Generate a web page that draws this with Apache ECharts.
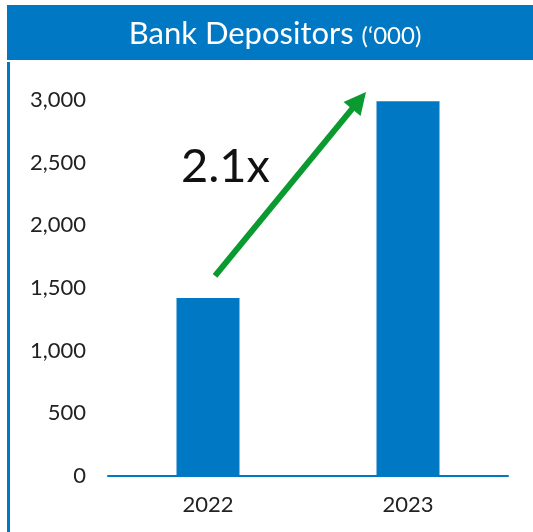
<!DOCTYPE html>
<html><head><meta charset="utf-8">
<script src="https://cdn.jsdelivr.net/npm/echarts@6/dist/echarts.min.js"></script>
<style>html,body{margin:0;padding:0;background:#fff}#c{width:533px;height:532px}</style>
</head><body><div id="c"></div>
<script>
const categories = ['2022', '2023'];
const depositors = [1420, 2990];
const yTicks = [0, 500, 1000, 1500, 2000, 2500, 3000];
const arrowFrom = [0.035, 1596];
const arrowTo = [0.79, 3064];
const growthLabel = '2.1x';

const FONT = 'Lato, "Open Sans", sans-serif';
const BLUE = '#0078c4';
const GREEN = '#0a9a30';
const chart = echarts.init(document.getElementById('c'));
const baseGraphic = [
  { type: 'rect', shape: { x: 7, y: 5, width: 526, height: 55 }, style: { fill: BLUE } },
  { type: 'rect', shape: { x: 7, y: 62, width: 3, height: 470 }, style: { fill: BLUE } },
  { type: 'text', x: 275, y: 34, style: { text: '{a|Bank Depositors }{b|(\u2018000)}', align: 'center', verticalAlign: 'middle',
    rich: { a: { fontSize: 31, fill: '#fff', fontFamily: FONT }, b: { fontSize: 24, fill: '#fff', fontFamily: FONT, padding: [5, 0, 0, 0] } } } },
  { type: 'text', left: 181, top: 143, style: { text: growthLabel, fontSize: 47, fill: '#111', fontFamily: FONT } }
];
chart.setOption({
  animation: false,
  graphic: baseGraphic,
  grid: { left: 108, right: 25, top: 100, bottom: 56 },
  xAxis: [
    { type: 'category', data: categories, axisTick: { show: false },
      axisLine: { lineStyle: { color: BLUE, width: 2 } },
      axisLabel: { fontSize: 22, color: '#222', fontFamily: FONT, margin: 18 } },
    { type: 'value', min: -0.5, max: 1.5, show: false }
  ],
  yAxis: { type: 'value', min: 0, max: 3000, interval: 500, splitLine: { show: false },
    axisLine: { show: false }, axisTick: { show: false },
    axisLabel: { fontSize: 22, color: '#222', fontFamily: FONT, margin: 22,
      formatter: v => yTicks.includes(v) ? v.toLocaleString('en-US') : '' } },
  series: [
    { type: 'bar', data: depositors, barWidth: 63, itemStyle: { color: BLUE } },
    { type: 'line', xAxisIndex: 1, data: [], symbol: 'none', silent: true }
  ]
});
const p1 = chart.convertToPixel({ xAxisIndex: 1, yAxisIndex: 0 }, arrowFrom);
const p2 = chart.convertToPixel({ xAxisIndex: 1, yAxisIndex: 0 }, arrowTo);
const dx = p2[0] - p1[0], dy = p2[1] - p1[1];
const len = Math.sqrt(dx * dx + dy * dy);
const ux = dx / len, uy = dy / len, nx = -uy, ny = ux;
const headL = 22, headW = 11;
const bx = p2[0] - ux * headL, by = p2[1] - uy * headL;
chart.setOption({
  graphic: baseGraphic.concat([
    { type: 'line', shape: { x1: p1[0], y1: p1[1], x2: bx + ux * 2, y2: by + uy * 2 }, style: { stroke: GREEN, lineWidth: 6 } },
    { type: 'polygon', shape: { points: [p2, [bx + nx * headW, by + ny * headW], [bx - nx * headW, by - ny * headW]] }, style: { fill: GREEN } }
  ])
});
</script></body></html>
